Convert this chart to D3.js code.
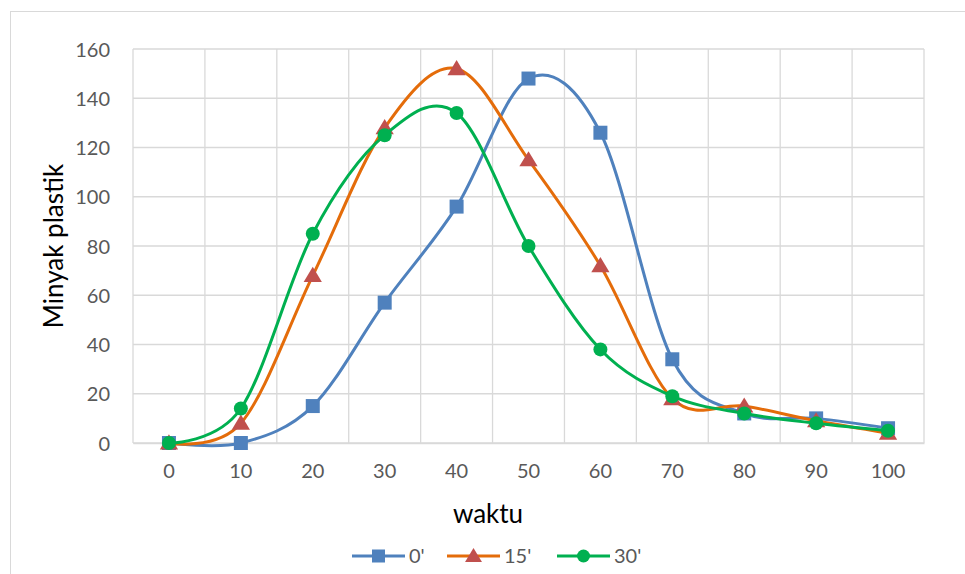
<!DOCTYPE html>
<meta charset="utf-8" />
<title>Minyak plastik vs waktu</title>
<style>
  body { margin: 0; background: #fff; }
  svg { display: block; font-family: Lato, "Open Sans", sans-serif; }
  .grid line { stroke: #d9d9d9; stroke-width: 1.3px; }
  .series path.line { fill: none; stroke-width: 3px; }
</style>
<body>
<svg width="965" height="574"></svg>
<script src="https://d3js.org/d3.v7.min.js"></script>
<script>
  // data
  const waktu = [0, 10, 20, 30, 40, 50, 60, 70, 80, 90, 100];
  const s0  = [0, 0, 15, 57, 96, 148, 126, 34, 12, 10, 6];
  const s15 = [0, 8, 68, 128, 152, 115, 72, 18, 15, 9, 4];
  const s30 = [0, 14, 85, 125, 134, 80, 38, 19, 12, 8, 5];
  const yTicks = [0, 20, 40, 60, 80, 100, 120, 140, 160];

  const series = [
    { name: "0'", values: s0, line: "#4f81bd", marker: "#4f81bd", shape: "square" },
    { name: "15'", values: s15, line: "#e46c0a", marker: "#c0504d", shape: "triangle" },
    { name: "30'", values: s30, line: "#00b050", marker: "#00b050", shape: "circle" }
  ];

  const svg = d3.select("svg");
  const m = { left: 133, right: 924, top: 49, bottom: 443 };

  // outer chart frame
  svg.append("rect")
    .attr("x", 10.5).attr("y", 11.5)
    .attr("width", 970).attr("height", 600)
    .attr("fill", "none").attr("stroke", "#d9d9d9");

  const x = d3.scaleBand().domain(waktu).range([m.left, m.right]);
  const y = d3.scaleLinear().domain([0, 160]).range([m.bottom, m.top]);

  // gridlines
  const grid = svg.append("g").attr("class", "grid");
  grid.selectAll("line.h").data(yTicks).enter().append("line")
    .attr("x1", m.left).attr("x2", m.right)
    .attr("y1", d => y(d)).attr("y2", d => y(d));
  const bounds = waktu.map(d => x(d)).concat([m.right]);
  grid.selectAll("line.v").data(bounds).enter().append("line")
    .attr("x1", d => d).attr("x2", d => d)
    .attr("y1", m.top).attr("y2", m.bottom);

  // axes
  const yAxis = svg.append("g")
    .attr("transform", `translate(${m.left - 11},0)`)
    .call(d3.axisLeft(y).tickValues(yTicks).tickSize(0).tickPadding(12));
  yAxis.select(".domain").remove();
  yAxis.selectAll("text").attr("dy", "0.35em");

  const xAxis = svg.append("g")
    .attr("transform", `translate(0,${m.bottom})`)
    .call(d3.axisBottom(x).tickSize(0).tickPadding(21));
  xAxis.select(".domain").attr("stroke", "#d9d9d9").attr("stroke-width", 1.5);

  svg.selectAll(".tick text")
    .style("font-size", "20px").style("font-family", "Lato, sans-serif")
    .attr("fill", "#595959");

  // axis titles
  svg.append("text")
    .attr("x", 488).attr("y", 523)
    .attr("text-anchor", "middle").attr("font-size", 26).attr("fill", "#000")
    .text("waktu");
  svg.append("text")
    .attr("transform", `translate(63,${(m.top + m.bottom) / 2}) rotate(-90)`)
    .attr("text-anchor", "middle").attr("font-size", 26).attr("fill", "#000")
    .text("Minyak plastik");

  const line = d3.line()
    .x((d, i) => x(waktu[i]) + x.bandwidth() / 2)
    .y(d => y(d))
    .curve(d3.curveCardinal.tension(0));

  function marker(g, shape, color, size) {
    if (shape === "square") {
      g.append("rect").attr("x", -size / 2).attr("y", -size / 2)
        .attr("width", size).attr("height", size).attr("fill", color);
    } else if (shape === "triangle") {
      const s = size * 0.62;
      g.append("path").attr("d", `M0,${-s}L${s * 1.05},${s * 0.75}L${-s * 1.05},${s * 0.75}Z`)
        .attr("fill", color);
    } else {
      g.append("circle").attr("r", size / 2).attr("fill", color);
    }
  }

  series.forEach(s => {
    const g = svg.append("g").attr("class", "series");
    g.append("path").attr("class", "line")
      .attr("d", line(s.values)).attr("stroke", s.line);
    g.selectAll("g.pt").data(s.values).enter().append("g")
      .attr("transform", (d, i) => `translate(${x(waktu[i]) + x.bandwidth() / 2},${y(d)})`)
      .each(function () { marker(d3.select(this), s.shape, s.marker, 14); });
  });

  // legend
  const legendX = [352, 447, 557];
  const lg = svg.append("g").selectAll("g").data(series).enter().append("g")
    .attr("transform", (d, i) => `translate(${legendX[i]},556)`);
  lg.append("line").attr("x1", 0).attr("x2", 53).attr("y1", 0).attr("y2", 0)
    .attr("stroke", d => d.line).attr("stroke-width", 3);
  lg.each(function (d) {
    const g = d3.select(this).append("g").attr("transform", "translate(26.5,0)");
    marker(g, d.shape, d.marker, 13);
  });
  lg.append("text").attr("x", 57).attr("dy", "0.35em")
    .attr("font-size", 20).attr("fill", "#595959")
    .text(d => d.name);
</script>
</body>
